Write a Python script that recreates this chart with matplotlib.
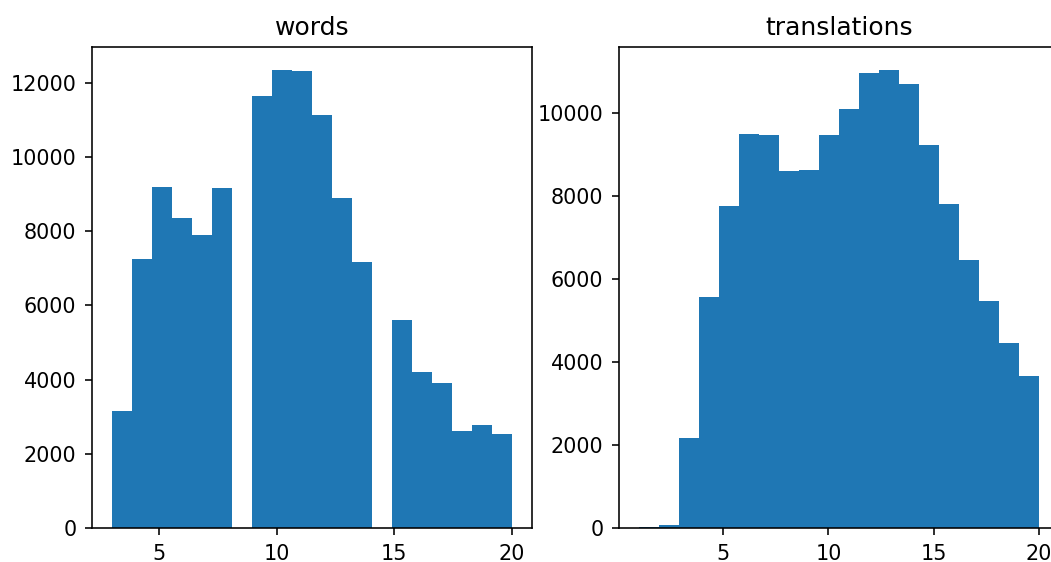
import numpy as np
import matplotlib
matplotlib.use('Agg')
import matplotlib.pyplot as plt

# sentence lengths (number of tokens) and how many sentences have that length
word_lengths = np.arange(3, 21)
word_counts = [3167, 7264, 9191, 8358, 7893, 9152, 11642, 12349, 12320,
               11138, 8901, 7167, 5617, 4213, 3922, 2615, 2780, 2538]

trans_lengths = np.arange(1, 21)
trans_counts = [35, 78, 2163, 5554, 7760, 9490, 9455, 8590, 8625, 9455,
                10095, 10960, 11030, 10700, 9221, 7794, 6445, 5458, 4446, 3659]

plt.rcParams['font.size'] = 10.4
plt.rcParams['xtick.major.pad'] = 4.3
plt.rcParams['ytick.major.pad'] = 4.3

W, H, dpi = 1051, 562, 144
fig = plt.figure(figsize=(W / dpi, H / dpi), dpi=dpi)

ax1 = fig.add_axes([92 / W, (H - 528) / H, 440 / W, 481 / H])
ax2 = fig.add_axes([619 / W, (H - 528) / H, 440 / W, 481 / H])

ax1.hist(word_lengths, bins=20, weights=word_counts)
ax1.set_title("words")

ax2.hist(trans_lengths, bins=20, weights=trans_counts)
ax2.set_title("translations")

fig.savefig("out.png", dpi=dpi)
